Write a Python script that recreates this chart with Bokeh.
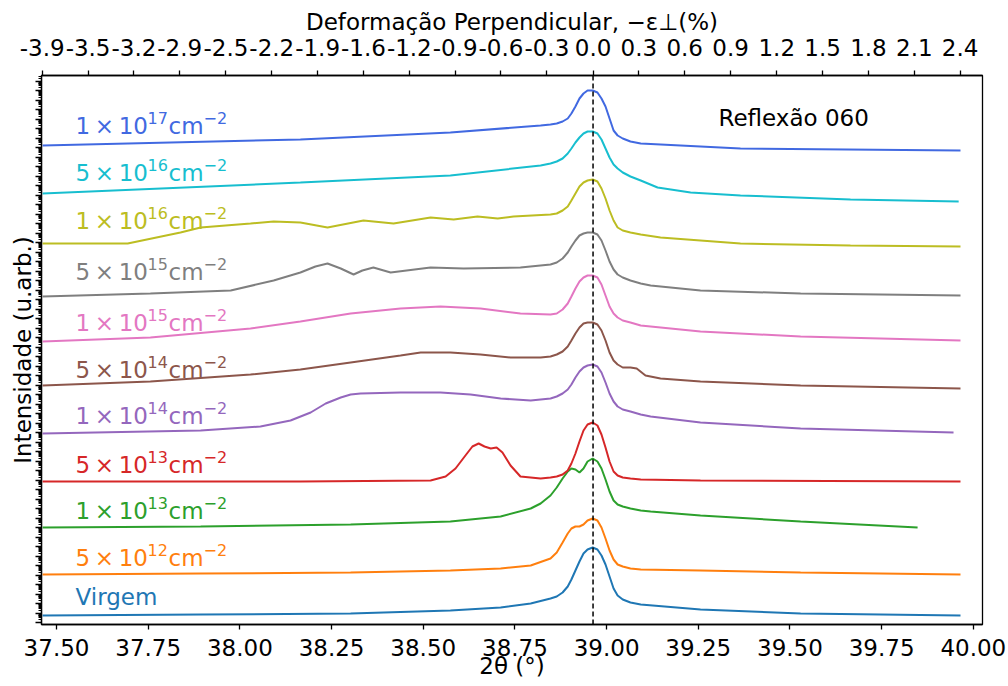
import numpy as np
from bokeh.plotting import figure
from bokeh.models import (Range1d, LinearAxis, FixedTicker, NumeralTickFormatter,
                          CustomJSTickFormatter, Span, ColumnDataSource, Label)
from bokeh.core.properties import value
from bokeh.embed import file_html
from bokeh.resources import INLINE

# ---------------- data: 2θ (deg) and stacked intensity (arb. units) ----------------
virgem_x = [37.462, 37.893, 38.302, 38.574, 38.711, 38.793,
            38.847, 38.864, 38.880, 38.894, 38.904, 38.915, 38.926, 38.937, 38.948, 38.962,
            38.975, 38.986, 38.997, 39.008, 39.019, 39.030, 39.044, 39.065, 39.093,
            39.256, 39.529, 39.965]
virgem_y = [9, 10, 11, 14, 17, 21,
            26, 28, 32, 38, 45, 54, 63, 71, 75, 77, 75, 69, 60, 48, 36, 29, 25, 22, 20,
            15, 11, 9]

d5e12_x = [37.462, 37.893, 38.302, 38.574, 38.711, 38.793,
           38.847, 38.864, 38.880, 38.894, 38.904, 38.915, 38.926, 38.937, 38.948, 38.962,
           38.975, 38.986, 38.997, 39.008, 39.019, 39.030, 39.044, 39.065, 39.093,
           39.256, 39.529, 39.965]
d5e12_y = [50, 51, 52, 54, 56, 59,
           66, 72, 82, 91, 96, 98, 98, 100, 104, 106, 104, 97, 86, 74, 65, 60, 58, 56, 55,
           54, 52, 50]

d1e13_x = [37.462, 37.893, 38.302, 38.574, 38.711, 38.793, 38.820,
           38.847, 38.864, 38.880, 38.894, 38.904, 38.915, 38.926, 38.937, 38.948, 38.962,
           38.975, 38.986, 38.997, 39.008, 39.019, 39.030, 39.044, 39.065, 39.093,
           39.120, 39.256, 39.529, 39.848]
d1e13_y = [97, 98, 100, 103, 108, 116, 121,
           129, 137, 146, 153, 156, 155, 152, 156, 163, 166, 163, 156, 145, 133, 124, 120, 118, 116, 114,
           113, 109, 103, 97]

d5e13_x = [37.462, 38.165, 38.520, 38.561, 38.588, 38.615, 38.634, 38.651, 38.667, 38.684, 38.700,
           38.716, 38.738, 38.765, 38.820,
           38.847, 38.864, 38.880, 38.894, 38.904, 38.915, 38.926, 38.937, 38.948, 38.962,
           38.975, 38.986, 38.997, 39.008, 39.019, 39.030, 39.044, 39.065, 39.093,
           39.256, 39.965]
d5e13_y = [143, 143, 144, 148, 156, 169, 178, 181, 178, 176, 177, 172, 159, 148, 146,
           147, 148, 150, 154, 161, 171, 183, 194, 200, 202, 199, 190, 177, 163, 153, 149, 147, 146, 145,
           144, 143]

d1e14_x = [37.462, 37.893, 38.056, 38.138, 38.193, 38.234, 38.275, 38.302, 38.329, 38.438, 38.547,
           38.629, 38.711, 38.793,
           38.847, 38.864, 38.880, 38.894, 38.904, 38.915, 38.926, 38.937, 38.948, 38.962,
           38.975, 38.986, 38.997, 39.008, 39.019, 39.030, 39.044, 39.065, 39.093,
           39.120, 39.256, 39.529, 39.946]
d1e14_y = [191, 194, 198, 204, 212, 221, 227, 230, 231, 232, 232, 230, 226, 224,
           226, 228, 231, 235, 240, 247, 253, 257, 259, 260, 258, 252, 242, 231, 223, 218, 215, 213, 210,
           208, 202, 196, 192]

d5e14_x = [37.462, 37.756, 38.029, 38.165, 38.302, 38.438, 38.493, 38.574, 38.656, 38.738, 38.820,
           38.847, 38.864, 38.880, 38.894, 38.904, 38.915, 38.926, 38.937, 38.948, 38.962,
           38.975, 38.986, 38.997, 39.008, 39.019, 39.030, 39.044, 39.065, 39.082, 39.106, 39.147,
           39.256, 39.529, 39.965]
d5e14_y = [239, 243, 250, 255, 262, 269, 272, 272, 270, 267, 267,
           268, 270, 273, 278, 284, 291, 297, 301, 302, 302, 300, 294, 284, 272, 264, 260, 257,
           257, 256, 249, 246,
           243, 239, 236]

d1e15_x = [37.462, 37.756, 38.029, 38.165, 38.302, 38.438, 38.547, 38.656, 38.765,
           38.847, 38.864, 38.880, 38.894, 38.904, 38.915, 38.926, 38.937, 38.948, 38.962,
           38.975, 38.986, 38.997, 39.008, 39.019, 39.030, 39.044, 39.065, 39.093,
           39.120, 39.256, 39.529, 39.965]
d1e15_y = [283, 287, 296, 303, 311, 316, 318, 316, 311,
           310, 311, 315, 321, 328, 336, 343, 347, 349, 349, 347, 340, 329, 318, 311, 307, 304, 302, 299,
           298, 293, 288, 284]

d5e15_x = [37.462, 37.756, 37.975, 38.092, 38.165, 38.206, 38.239, 38.275, 38.310, 38.334, 38.364,
           38.411, 38.520, 38.610, 38.765,
           38.847, 38.864, 38.880, 38.894, 38.904, 38.915, 38.926, 38.937, 38.948, 38.962,
           38.975, 38.986, 38.997, 39.008, 39.019, 39.030, 39.044, 39.065, 39.093,
           39.120, 39.256, 39.529, 39.965]
d5e15_y = [328, 331, 334, 344, 352, 358, 361, 356, 350, 354, 357, 352, 357, 356, 357,
           360, 362, 366, 372, 378, 384, 389, 391, 392, 392, 390, 384, 374, 363, 355, 350, 347, 344, 341,
           339, 334, 331, 329]

d1e16_x = [37.462, 37.694, 37.838, 37.893, 38.029, 38.092, 38.165, 38.239, 38.337, 38.419, 38.520,
           38.583, 38.648, 38.703, 38.746,
           38.847, 38.864, 38.880, 38.894, 38.904, 38.915, 38.926, 38.937, 38.948, 38.962,
           38.975, 38.986, 38.997, 39.008, 39.019, 39.030, 39.044, 39.065, 39.093,
           39.147, 39.365, 39.665, 39.965]
d1e16_y = [381, 381, 392, 397, 401, 403, 402, 397, 404, 401, 407, 405, 408, 406, 408,
           410, 411, 414, 418, 424, 431, 438, 442, 444, 445, 443, 436, 426, 414, 404, 397, 394, 392, 390,
           387, 381, 379, 378]

d5e16_x = [37.462, 38.165, 38.574, 38.820,
           38.847, 38.864, 38.880, 38.894, 38.904, 38.915, 38.926, 38.937, 38.948, 38.962,
           38.975, 38.986, 38.997, 39.008, 39.019, 39.030, 39.044, 39.065, 39.093,
           39.139, 39.229, 39.365, 39.665, 39.960]
d5e16_y = [431, 442, 449, 459,
           461, 463, 466, 471, 476, 482, 487, 491, 493, 493, 491, 485, 476, 467, 460, 456, 452, 448, 444,
           437, 432, 429, 425, 423]

d1e17_x = [37.462, 38.165, 38.574, 38.820,
           38.847, 38.864, 38.880, 38.894, 38.904, 38.915, 38.926, 38.937, 38.948, 38.962,
           38.975, 38.986, 38.997, 39.008, 39.019, 39.030, 39.044, 39.065, 39.093,
           39.365, 39.965]
d1e17_y = [479, 485, 492, 499,
           500, 501, 503, 506, 511, 518, 526, 531, 534, 534, 532, 526, 518, 506, 494, 489, 486, 483, 481,
           476, 474]

series_x = [virgem_x, d5e12_x, d1e13_x, d5e13_x, d1e14_x, d5e14_x, d1e15_x, d5e15_x, d1e16_x, d5e16_x, d1e17_x]
series_y = [virgem_y, d5e12_y, d1e13_y, d5e13_y, d1e14_y, d5e14_y, d1e15_y, d5e15_y, d1e16_y, d5e16_y, d1e17_y]
series_colors = ["#1f77b4", "#ff7f0e", "#2ca02c", "#d62728", "#9467bd", "#8c564b",
                 "#e377c2", "#7f7f7f", "#bcbd22", "#17becf", "#4169e1"]
# fluence labels: mantissa × 10^exponent cm^-2 (first series is "Virgem")
label_mantissa = ["5", "1", "5", "1", "5", "1", "5", "1", "5", "1"]
label_exponent = ["12", "13", "13", "14", "14", "15", "15", "16", "16", "17"]
label_baseline_y = [28, 67, 114, 160, 209, 255, 302, 353, 404, 452, 499]
label_x = 37.552

bottom_ticks = [37.50, 37.75, 38.00, 38.25, 38.50, 38.75, 39.00, 39.25, 39.50, 39.75, 40.00]
top_tick_pos = [37.461, 37.586, 37.711, 37.836, 37.962, 38.087, 38.212, 38.337, 38.462, 38.587, 38.712,
                38.837, 38.963, 39.088, 39.213, 39.338, 39.464, 39.589, 39.714, 39.839, 39.964]
top_tick_labels = ["-3.9", "-3.5", "-3.2", "-2.9", "-2.5", "-2.2", "-1.9", "-1.6", "-1.2", "-0.9", "-0.6",
                   "-0.3", "0.0", "0.3", "0.6", "0.9", "1.2", "1.5", "1.8", "2.1", "2.4"]
peak_position = 38.963

# ---------------- figure ----------------
FONT = "DejaVu Sans"
FS = "23px"
FS_SUP = "16px"

p = figure(width=1008, height=686, output_backend="svg", toolbar_location=None,
           x_range=Range1d(37.459, 40.025), y_range=Range1d(0, 549),
           min_border_left=41, min_border_right=26, min_border_top=75, min_border_bottom=62)
p.background_fill_color = "white"
p.border_fill_color = "white"
p.grid.visible = False
p.outline_line_color = "black"
p.outline_line_width = 1.3

for xs, ys, c in zip(series_x, series_y, series_colors):
    p.line(xs, ys, line_color=c, line_width=2)

p.add_layout(Span(location=peak_position, dimension="height", line_color="black",
                  line_width=1.5, line_dash="5 3"))

# labels: base text pieces and superscript pieces
thin = "\u2009"
base_t, base_y, base_c, base_off = ["Virgem"], [label_baseline_y[0]], [series_colors[0]], [0]
sup_t, sup_y, sup_c, sup_off = [], [], [], []
for m, e, yb, c in zip(label_mantissa, label_exponent, label_baseline_y[1:], series_colors[1:]):
    base_t += [m + thin + "×" + thin + "10", "cm"]
    base_y += [yb, yb]
    base_c += [c, c]
    base_off += [0, 93]
    sup_t += [e, "−2"]
    sup_y += [yb, yb]
    sup_c += [c, c]
    sup_off += [72, 128]

bsrc = ColumnDataSource(dict(x=[label_x] * len(base_t), y=base_y, t=base_t, c=base_c, o=base_off))
ssrc = ColumnDataSource(dict(x=[label_x] * len(sup_t), y=sup_y, t=sup_t, c=sup_c, o=sup_off))
p.text(x="x", y="y", text="t", text_color="c", x_offset="o", source=bsrc, text_font=value(FONT),
       text_font_size=FS, text_baseline="alphabetic", text_align="left")
p.text(x="x", y="y", text="t", text_color="c", x_offset="o", y_offset=-8, source=ssrc,
       text_font=value(FONT), text_font_size=FS_SUP, text_baseline="alphabetic", text_align="left")

p.add_layout(Label(x=39.305, y=507, text="Reflexão 060", text_font=FONT, text_font_size=FS,
                   text_baseline="middle", text_color="black"))

# bottom axis
xa = p.xaxis[0]
xa.ticker = FixedTicker(ticks=bottom_ticks)
xa.formatter = NumeralTickFormatter(format="0.00")
xa.axis_label = "2θ (°)"

# left axis (log-style tick marks, no labels)
dec = 9.5
majors = [2 + k * dec for k in range(58)]
minors = [2 + (k + np.log10(m)) * dec for k in range(58) for m in range(2, 10)]
ya = p.yaxis[0]
ya.ticker = FixedTicker(ticks=majors, minor_ticks=minors)
ya.formatter = CustomJSTickFormatter(code="return ''")
ya.axis_label = "Intensidade (u.arb.)"

# top axis (strain)
top = LinearAxis(ticker=FixedTicker(ticks=top_tick_pos),
                 formatter=CustomJSTickFormatter(args=dict(pos=top_tick_pos, lab=top_tick_labels), code="""
let b = 0;
for (let i = 0; i < pos.length; i++) { if (Math.abs(pos[i] - tick) < Math.abs(pos[b] - tick)) b = i; }
return lab[b];
"""),
                 axis_label="Deformação Perpendicular, −ε⊥(%)")
p.add_layout(top, "above")

for ax in [xa, ya, top]:
    ax.axis_label_text_font = FONT
    ax.axis_label_text_font_size = FS
    ax.axis_label_text_font_style = "normal"
    ax.axis_label_text_color = "black"
    ax.major_label_text_font = FONT
    ax.major_label_text_font_size = FS
    ax.major_label_text_color = "black"
    ax.axis_line_color = "black"
    ax.axis_line_width = 1.3
    ax.major_tick_line_color = "black"
    ax.major_tick_line_width = 1.3
    ax.major_tick_out = 5
    ax.major_tick_in = 0
    ax.minor_tick_out = 3
    ax.minor_tick_in = 0
    ax.minor_tick_line_color = "black"

xa.minor_tick_line_color = None
top.minor_tick_line_color = None
xa.major_label_standoff = 9
xa.axis_label_standoff = -6
top.major_label_standoff = 15
top.axis_label_standoff = 1
ya.major_label_standoff = 0
ya.axis_label_standoff = 0
ya.major_tick_out = 6
ya.minor_tick_out = 3

open("out.html", "w").write(file_html(p, INLINE))
